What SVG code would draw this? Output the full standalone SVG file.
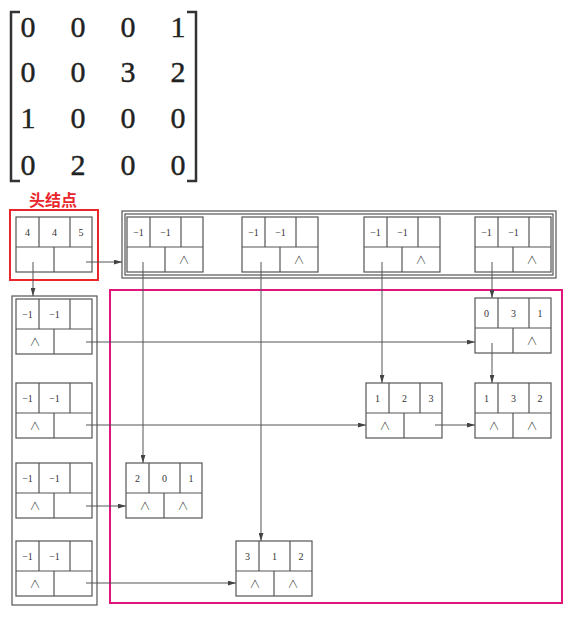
<svg xmlns="http://www.w3.org/2000/svg" xmlns:xlink="http://www.w3.org/1999/xlink" width="574" height="621" viewBox="0 0 574 621">
<style>
.f rect,.f line{fill:none;stroke:#555;stroke-width:1.2}
.box{fill:none;stroke:#555;stroke-width:1.2}
.v{font-family:"Liberation Serif",serif;font-size:10px;fill:#333;text-anchor:middle}
.n{font-family:"Noto Sans CJK SC",sans-serif;font-weight:300;font-size:11px;fill:#333;text-anchor:middle}
.m{font-family:"Liberation Serif",serif;font-size:30px;fill:#222;stroke:#222;stroke-width:0.4;text-anchor:middle}
.c line{stroke:#555;stroke-width:1;marker-end:url(#ah)}
</style>
<defs>
<marker id="ah" viewBox="0 0 10 6" refX="10" refY="3" markerWidth="8" markerHeight="5" markerUnits="userSpaceOnUse" orient="auto"><path d="M0,0L10,3L0,6z" fill="#444"/></marker>
<g id="frame" class="f"><rect x="0" y="0" width="76" height="55"/><line x1="0" y1="30" x2="76" y2="30"/><line x1="23" y1="0" x2="23" y2="30"/><line x1="54" y1="0" x2="54" y2="30"/><line x1="38" y1="30" x2="38" y2="55"/></g>
</defs>
<rect width="574" height="621" fill="#fff"/>
<g id="matrix">
<path d="M20,12H11V181H20M187,12H196V181H187" fill="none" stroke="#333" stroke-width="2.5"/>
<text class="m" x="28" y="37">0</text><text class="m" x="78" y="37">0</text><text class="m" x="128" y="37">0</text><text class="m" x="178" y="37">1</text>
<text class="m" x="28" y="82">0</text><text class="m" x="78" y="82">0</text><text class="m" x="128" y="82">3</text><text class="m" x="178" y="82">2</text>
<text class="m" x="28" y="128">1</text><text class="m" x="78" y="128">0</text><text class="m" x="128" y="128">0</text><text class="m" x="178" y="128">0</text>
<text class="m" x="28" y="175">0</text><text class="m" x="78" y="175">2</text><text class="m" x="128" y="175">0</text><text class="m" x="178" y="175">0</text>
</g>
<text x="53" y="206" font-family="'Noto Sans CJK SC',sans-serif" font-size="16" font-weight="bold" fill="#e8262b" text-anchor="middle">头结点</text>
<rect x="10" y="210" width="88" height="70" fill="none" stroke="#e8262b" stroke-width="2"/>
<rect x="110" y="290" width="452" height="313" fill="none" stroke="#e0157c" stroke-width="2"/>
<g id="colContainer"><rect class="box" x="122" y="211" width="434" height="67"/><rect class="box" x="125" y="214" width="428" height="61"/></g>
<g id="rowContainer"><rect class="box" x="12" y="296" width="85" height="309"/></g>

<g id="head" transform="translate(16,217)"><use xlink:href="#frame"/><text class="v" x="11.5" y="19">4</text><text class="v" x="38.5" y="19">4</text><text class="v" x="65" y="19">5</text></g>

<g id="col1" transform="translate(127,217)"><use xlink:href="#frame"/><text class="v" x="11.5" y="19">−1</text><text class="v" x="38.5" y="19">−1</text><text class="n" x="57" y="47">∧</text></g>
<g id="col2" transform="translate(242,217)"><use xlink:href="#frame"/><text class="v" x="11.5" y="19">−1</text><text class="v" x="38.5" y="19">−1</text><text class="n" x="57" y="47">∧</text></g>
<g id="col3" transform="translate(364,217)"><use xlink:href="#frame"/><text class="v" x="11.5" y="19">−1</text><text class="v" x="38.5" y="19">−1</text><text class="n" x="57" y="47">∧</text></g>
<g id="col4" transform="translate(475,217)"><use xlink:href="#frame"/><text class="v" x="11.5" y="19">−1</text><text class="v" x="38.5" y="19">−1</text><text class="n" x="57" y="47">∧</text></g>

<g id="row1" transform="translate(16,299)"><use xlink:href="#frame"/><text class="v" x="11.5" y="19">−1</text><text class="v" x="38.5" y="19">−1</text><text class="n" x="19" y="47">∧</text></g>
<g id="row2" transform="translate(16,383)"><use xlink:href="#frame"/><text class="v" x="11.5" y="19">−1</text><text class="v" x="38.5" y="19">−1</text><text class="n" x="19" y="47">∧</text></g>
<g id="row3" transform="translate(16,463)"><use xlink:href="#frame"/><text class="v" x="11.5" y="19">−1</text><text class="v" x="38.5" y="19">−1</text><text class="n" x="19" y="47">∧</text></g>
<g id="row4" transform="translate(16,541)"><use xlink:href="#frame"/><text class="v" x="11.5" y="19">−1</text><text class="v" x="38.5" y="19">−1</text><text class="n" x="19" y="47">∧</text></g>

<g id="e031" transform="translate(475,298)"><use xlink:href="#frame"/><text class="v" x="11.5" y="19">0</text><text class="v" x="38.5" y="19">3</text><text class="v" x="65" y="19">1</text><text class="n" x="57" y="47">∧</text></g>
<g id="e123" transform="translate(366,383)"><use xlink:href="#frame"/><text class="v" x="11.5" y="19">1</text><text class="v" x="38.5" y="19">2</text><text class="v" x="65" y="19">3</text><text class="n" x="19" y="47">∧</text></g>
<g id="e132" transform="translate(475,383)"><use xlink:href="#frame"/><text class="v" x="11.5" y="19">1</text><text class="v" x="38.5" y="19">3</text><text class="v" x="65" y="19">2</text><text class="n" x="19" y="47">∧</text><text class="n" x="57" y="47">∧</text></g>
<g id="e201" transform="translate(126,463)"><use xlink:href="#frame"/><text class="v" x="11.5" y="19">2</text><text class="v" x="38.5" y="19">0</text><text class="v" x="65" y="19">1</text><text class="n" x="19" y="47">∧</text><text class="n" x="57" y="47">∧</text></g>
<g id="e312" transform="translate(236,541)"><use xlink:href="#frame"/><text class="v" x="11.5" y="19">3</text><text class="v" x="38.5" y="19">1</text><text class="v" x="65" y="19">2</text><text class="n" x="19" y="47">∧</text><text class="n" x="57" y="47">∧</text></g>

<g id="connectors" class="c">
<line x1="33" y1="262" x2="33" y2="296"/>
<line x1="86" y1="262" x2="122" y2="262"/>
<line x1="143" y1="262" x2="143" y2="463"/>
<line x1="261" y1="262" x2="261" y2="541"/>
<line x1="382" y1="262" x2="382" y2="383"/>
<line x1="492" y1="262" x2="492" y2="298"/>
<line x1="492" y1="343" x2="492" y2="383"/>
<line x1="86" y1="342" x2="475" y2="342"/>
<line x1="86" y1="425" x2="366" y2="425"/>
<line x1="435" y1="425" x2="475" y2="425"/>
<line x1="86" y1="506" x2="126" y2="506"/>
<line x1="86" y1="583" x2="236" y2="583"/>
</g>
</svg>
